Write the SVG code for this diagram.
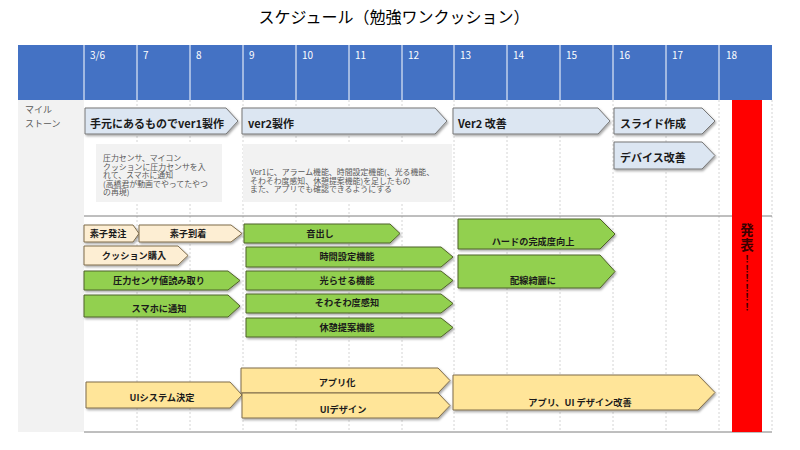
<svg xmlns="http://www.w3.org/2000/svg" width="800" height="450" viewBox="0 0 800 450">
  <defs>
    <filter id="shadow" x="-5%" y="-20%" width="115%" height="160%">
      <feDropShadow dx="1.2" dy="1.6" stdDeviation="0.9" flood-color="#000" flood-opacity="0.35"/>
    </filter>
    <style>
      text { font-family: "Noto Sans CJK JP", "Noto Sans", sans-serif; }
      .title { font-size: 16px; fill: #000; }
      .day { font-size: 10px; fill: #fff; }
      .side { font-size: 9px; fill: #595959; }
      .note { font-size: 7.9px; fill: #595959; }
      .ms path { fill: #dce6f2; stroke: #767676; stroke-width: 1; filter: url(#shadow); }
      .ms text { font-size: 11px; font-weight: bold; fill: #1a1a1a; }
      .task path { stroke-width: 1; filter: url(#shadow); }
      .task text { font-size: 9.2px; font-weight: bold; fill: #1a1a1a; text-anchor: middle; }
      .green path { fill: #92d050; stroke: #4f6228; }
      .cream path { fill: #fdeed3; stroke: #7f6c4a; }
      .yellow path { fill: #ffe599; stroke: #7f6c4a; }
      .grid line { stroke: #c9c9c9; stroke-width: 0.8; stroke-dasharray: 2 2; }
      .rule { stroke: #7f7f7f; stroke-width: 1; }
      .hsep line { stroke: #ffffff; stroke-width: 1; }
      .shout { font-size: 13.5px; font-weight: bold; fill: #3a0000; text-anchor: middle; }
      .bang { font-size: 9.5px; font-weight: bold; fill: #3a0000; writing-mode: vertical-rl; }
    </style>
  </defs>

  <rect width="800" height="450" fill="#ffffff"/>

  <!-- title -->
  <text class="title" x="394" y="23" text-anchor="middle">スケジュール（勉強ワンクッション）</text>

  <!-- day header -->
  <g id="header">
    <rect x="18" y="45" width="754" height="55" fill="#4472c4"/>
    <g class="hsep">
      <line x1="84" y1="45" x2="84" y2="100"/>
      <line x1="137" y1="45" x2="137" y2="100"/>
      <line x1="190" y1="45" x2="190" y2="100"/>
      <line x1="243" y1="45" x2="243" y2="100"/>
      <line x1="296" y1="45" x2="296" y2="100"/>
      <line x1="349" y1="45" x2="349" y2="100"/>
      <line x1="402" y1="45" x2="402" y2="100"/>
      <line x1="454" y1="45" x2="454" y2="100"/>
      <line x1="507" y1="45" x2="507" y2="100"/>
      <line x1="560" y1="45" x2="560" y2="100"/>
      <line x1="613" y1="45" x2="613" y2="100"/>
      <line x1="666" y1="45" x2="666" y2="100"/>
      <line x1="719" y1="45" x2="719" y2="100"/>
    </g>
    <text class="day" x="90" y="59">3/6</text>
    <text class="day" x="143" y="59">7</text>
    <text class="day" x="196" y="59">8</text>
    <text class="day" x="249" y="59">9</text>
    <text class="day" x="302" y="59">10</text>
    <text class="day" x="355" y="59">11</text>
    <text class="day" x="408" y="59">12</text>
    <text class="day" x="460" y="59">13</text>
    <text class="day" x="513" y="59">14</text>
    <text class="day" x="566" y="59">15</text>
    <text class="day" x="619" y="59">16</text>
    <text class="day" x="672" y="59">17</text>
    <text class="day" x="726" y="59">18</text>
  </g>

  <!-- body grid -->
  <g id="grid">
    <rect x="18" y="100" width="66" height="332" fill="#f2f2f2"/>
    <text class="side" x="25" y="113">マイル</text>
    <text class="side" x="25" y="127">ストーン</text>
    <g class="grid">
      <line x1="137" y1="100" x2="137" y2="432"/>
      <line x1="190" y1="100" x2="190" y2="432"/>
      <line x1="243" y1="100" x2="243" y2="432"/>
      <line x1="296" y1="100" x2="296" y2="432"/>
      <line x1="349" y1="100" x2="349" y2="432"/>
      <line x1="402" y1="100" x2="402" y2="432"/>
      <line x1="454" y1="100" x2="454" y2="432"/>
      <line x1="507" y1="100" x2="507" y2="432"/>
      <line x1="560" y1="100" x2="560" y2="432"/>
      <line x1="613" y1="100" x2="613" y2="432"/>
      <line x1="666" y1="100" x2="666" y2="432"/>
      <line x1="719" y1="100" x2="719" y2="432"/>
      <line x1="772" y1="100" x2="772" y2="432"/>
    </g>
    <line class="rule" x1="84" y1="216" x2="772" y2="216"/>
    <line class="rule" x1="84" y1="432" x2="772" y2="432"/>
  </g>

  <!-- presentation day -->
  <g id="presentation">
    <rect x="732" y="100" width="30" height="332" fill="#ff0000"/>
    <text class="shout"><tspan x="747" y="235">発</tspan><tspan x="747" y="250">表</tspan></text>
    <text class="bang" x="747" y="254">！！！！！！</text>
  </g>

  <!-- milestones -->
  <g id="milestones" class="ms">
    <g id="ms-ver1">
      <path d="M85,108 H226 L238,121 L226,134 H85 Z"/>
      <text x="90" y="128">手元にあるものでver1製作</text>
    </g>
    <g id="ms-ver2">
      <path d="M242,108 H435 L447,121 L435,134 H242 Z"/>
      <text x="248" y="128">ver2製作</text>
    </g>
    <g id="ms-improve">
      <path d="M453,108 H598 L610,121 L598,134 H453 Z"/>
      <text x="458" y="128">Ver2 改善</text>
    </g>
    <g id="ms-slides">
      <path d="M614,108 H702 L715,121 L702,134 H614 Z"/>
      <text x="620" y="128">スライド作成</text>
    </g>
    <g id="ms-device">
      <path d="M614,142 H702 L715,155.5 L702,169 H614 Z"/>
      <text x="620" y="162">デバイス改善</text>
    </g>
  </g>

  <!-- milestone notes -->
  <g id="note-ver1">
    <rect x="96" y="144" width="126" height="58" fill="#f2f2f2"/>
    <text class="note"><tspan x="103" y="161">圧力センサ、マイコン</tspan><tspan x="103" y="169.6">クッションに圧力センサを入</tspan><tspan x="103" y="178.2">れて、スマホに通知</tspan><tspan x="103" y="186.8">(高橋君が動画でやってたやつ</tspan><tspan x="103" y="195.4">の再現)</tspan></text>
  </g>
  <g id="note-ver2">
    <rect x="243" y="144" width="209" height="58" fill="#f2f2f2"/>
    <text class="note"><tspan x="250" y="175">Ver1に、アラーム機能、時間設定機能(、光る機能、</tspan><tspan x="250" y="183.6">そわそわ度感知、休憩提案機能)を足したもの</tspan><tspan x="250" y="192.2">また、アプリでも確認できるようにする</tspan></text>
  </g>

  <!-- hardware / firmware tasks -->
  <g id="tasks" class="task">
    <g id="t-order" class="cream">
      <path d="M84,225 H133 L139,233.5 L133,242 H84 Z"/>
      <text x="108" y="237">素子発注</text>
    </g>
    <g id="t-arrive" class="cream">
      <path d="M139,225 H231 L242,233.5 L231,242 H139 Z"/>
      <text x="188" y="237">素子到着</text>
    </g>
    <g id="t-cushion" class="cream">
      <path d="M84,246 H178 L188,255.5 L178,265 H84 Z"/>
      <text x="134" y="259">クッション購入</text>
    </g>
    <g id="t-sound" class="green">
      <path d="M244,224 H390 L400,233.5 L390,243 H244 Z"/>
      <text x="320" y="237">音出し</text>
    </g>
    <g id="t-timer" class="green">
      <path d="M246,247 H441 L453,257 L441,267 H246 Z"/>
      <text x="347" y="260">時間設定機能</text>
    </g>
    <g id="t-read" class="green">
      <path d="M84,271 H228 L240,280.5 L228,290 H84 Z"/>
      <text x="159" y="284">圧力センサ値読み取り</text>
    </g>
    <g id="t-light" class="green">
      <path d="M246,271 H441 L453,280.5 L441,290 H246 Z"/>
      <text x="347" y="284">光らせる機能</text>
    </g>
    <g id="t-notify" class="green">
      <path d="M84,295 H228 L240,306 L228,317 H84 Z"/>
      <text x="159" y="312">スマホに通知</text>
    </g>
    <g id="t-fidget" class="green">
      <path d="M246,294 H441 L453,303.5 L441,313 H246 Z"/>
      <text x="347" y="306">そわそわ度感知</text>
    </g>
    <g id="t-rest" class="green">
      <path d="M246,318 H441 L453,327.5 L441,337 H246 Z"/>
      <text x="347" y="331">休憩提案機能</text>
    </g>
    <g id="t-hardware" class="green">
      <path d="M458,219 H600 L615,234 L600,249 H458 Z"/>
      <text x="533" y="245">ハードの完成度向上</text>
    </g>
    <g id="t-wiring" class="green">
      <path d="M458,255 H600 L615,271.5 L600,288 H458 Z"/>
      <text x="533" y="284">配線綺麗に</text>
    </g>

    <!-- app / UI tasks -->
    <g id="t-ui-system" class="yellow">
      <path d="M86,382 H230 L242,395 L230,408 H86 Z"/>
      <text x="162" y="401">UIシステム決定</text>
    </g>
    <g id="t-app" class="yellow">
      <path d="M241,368 H438 L450,380.5 L438,393 H241 Z"/>
      <text x="337" y="386">アプリ化</text>
    </g>
    <g id="t-ui-design" class="yellow">
      <path d="M242,393 H438 L450,405.5 L438,418 H242 Z"/>
      <text x="343" y="413">UIデザイン</text>
    </g>
    <g id="t-app-ui" class="yellow">
      <path d="M453,375 H698 L715,392.5 L698,410 H453 Z"/>
      <text x="580" y="406">アプリ、UI デザイン改善</text>
    </g>
  </g>
</svg>
